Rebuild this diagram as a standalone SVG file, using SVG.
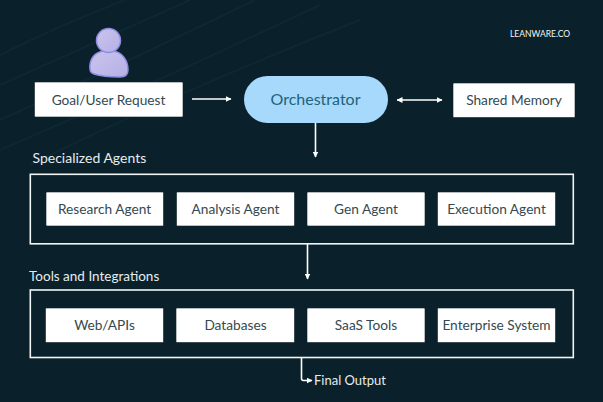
<svg xmlns="http://www.w3.org/2000/svg" width="603" height="402" viewBox="0 0 603 402">
<style>
text{font-family:"Lato","Liberation Sans",sans-serif;text-anchor:middle}
.b{fill:#fff;stroke:#0c1f28;stroke-width:.6}
.t{font-size:13.7px;fill:#34494f}
.l{fill:#e6ecee;text-anchor:start}
.f{fill:none;stroke:#f2f5f5;stroke-width:1.6}
.c{fill:none;stroke:#fff;stroke-width:1.6}
.w{fill:none;stroke:#1a3540;stroke-width:2;opacity:.35}
</style>
<defs>
<marker id="a" viewBox="0 0 6 6" refX="5.500" refY="3" markerWidth="6" markerHeight="6" markerUnits="userSpaceOnUse" orient="auto-start-reverse"><path d="M0 0L6 3L0 6z" fill="#fff"/></marker>
<linearGradient id="p" x1="0" y1="0" x2="1" y2="1"><stop offset="0" stop-color="#c9c4ec"/><stop offset="1" stop-color="#b5b0e6"/></linearGradient>
</defs>
<rect width="603" height="402" fill="#0a212b"/>
<path class="w" d="M0 55Q60 25 125 0M0 85Q90 45 190 0M0 120Q120 65 255 0M0 150Q140 90 320 5M30 165Q170 95 360 20"/>
<g id="frames">
<rect class="f" x="30.300" y="174.300" width="543" height="69.500"/>
<rect class="f" x="30.300" y="290" width="543" height="67.500"/>
</g>
<g id="connectors">
<path class="c" d="M192 99H231" marker-end="url(#a)"/>
<path class="c" d="M397 100H442" marker-start="url(#a)" marker-end="url(#a)"/>
<path class="c" d="M315.500 122V157" marker-end="url(#a)"/>
<path class="c" d="M307.500 244V279" marker-end="url(#a)"/>
<path class="c" d="M301.500 358V378.500Q301.500 380.500 303.500 380.500H312" marker-end="url(#a)"/>
</g>
<g id="user">
<path d="M90 69C89 60 94 52 104 51L113 51C122 52 128 60 128 70C128 75 125 77 120 77C110 77 100 76 94 74C91 73 90 72 90 69Z" fill="url(#p)" stroke="#8f8ce0" stroke-width="1.500"/>
<circle cx="108.500" cy="40.500" r="12" fill="url(#p)" stroke="#8f8ce0" stroke-width="1.500"/>
</g>
<g id="goal"><rect class="b" x="34.500" y="82" width="148.500" height="35" rx="1"/><text class="t" x="108.500" y="104.500">Goal/User Request</text></g>
<g id="orchestrator"><rect x="244" y="76" width="144" height="47" rx="23.500" fill="#a6d9fc"/><text x="315.500" y="104.500" font-size="16" fill="#1f6478">Orchestrator</text></g>
<g id="memory"><rect class="b" x="453" y="83" width="122" height="34.500" rx="1"/><text class="t" x="514" y="105">Shared Memory</text></g>
<g id="brand"><text x="540" y="36.500" font-size="8.500" fill="#f2f5f5">LEANWARE.CO</text></g>
<g id="labels">
<text class="l" x="32.500" y="163" font-size="14">Specialized Agents</text>
<text class="l" x="29" y="281" font-size="13.500">Tools and Integrations</text>
<text class="l" x="314" y="385" font-size="13">Final Output</text>
</g>
<g id="research"><rect class="b" x="46" y="192" width="117.500" height="34" rx="1"/><text class="t" x="104.500" y="214">Research Agent</text></g>
<g id="analysis"><rect class="b" x="176.500" y="192" width="118" height="34" rx="1"/><text class="t" x="235.500" y="214">Analysis Agent</text></g>
<g id="gen"><rect class="b" x="307" y="192" width="118" height="34" rx="1"/><text class="t" x="366" y="214">Gen Agent</text></g>
<g id="execution"><rect class="b" x="437.500" y="192" width="118" height="34" rx="1"/><text class="t" x="496.500" y="214">Execution Agent</text></g>
<g id="web"><rect class="b" x="45.500" y="308" width="118" height="34.500" rx="1"/><text class="t" x="104.500" y="330">Web/APIs</text></g>
<g id="databases"><rect class="b" x="176" y="308" width="118.500" height="34.500" rx="1"/><text class="t" x="235.500" y="330">Databases</text></g>
<g id="saas"><rect class="b" x="307" y="308" width="118" height="34.500" rx="1"/><text class="t" x="366" y="330">SaaS Tools</text></g>
<g id="enterprise"><rect class="b" x="437.500" y="308" width="118" height="34.500" rx="1"/><text class="t" x="496.500" y="330">Enterprise System</text></g>
</svg>
